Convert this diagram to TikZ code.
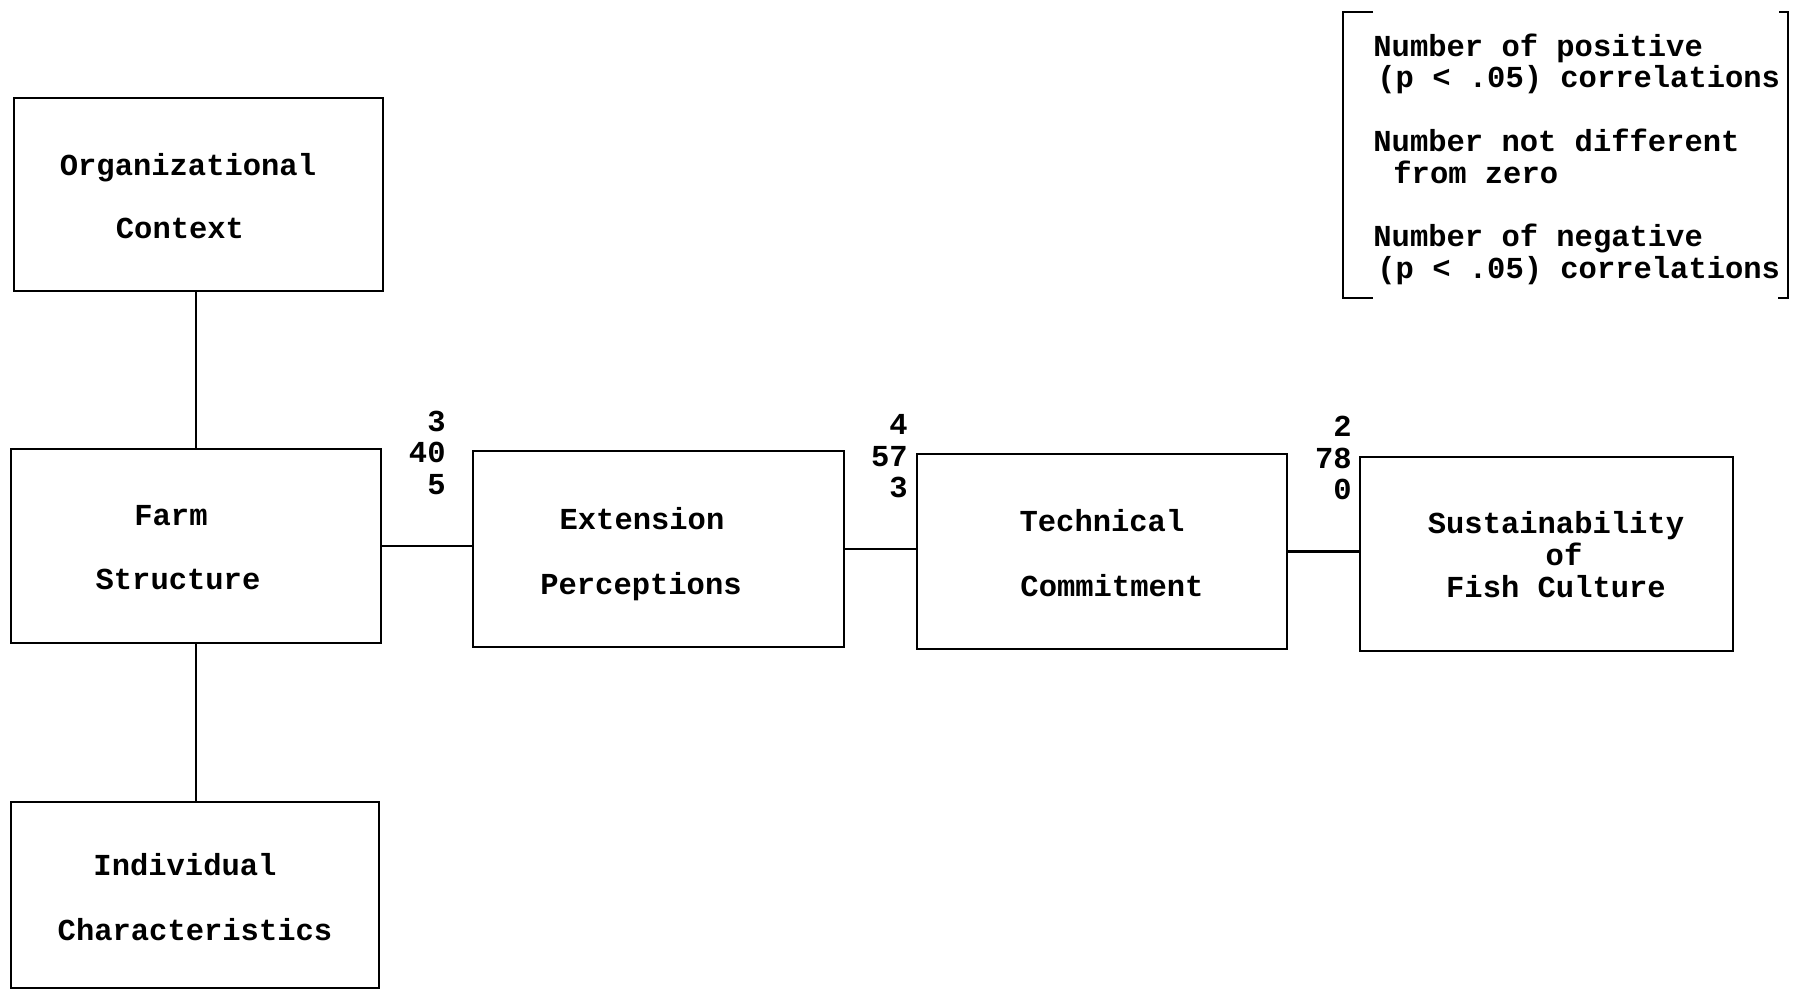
\documentclass[tikz,border=0pt]{standalone}
\usepackage{fontspec}
\setmonofont{Liberation Mono}
\begin{document}
\begin{tikzpicture}[x=0.5pt,y=-0.5pt,
  box/.style={draw, line width=1.35pt, inner sep=0pt, shape=rectangle},
  lbl/.style={font=\ttfamily\bfseries\fontsize{15.25}{16}\selectfont, inner sep=0pt, anchor=base},
  leg/.style={font=\ttfamily\bfseries\fontsize{15.25}{16}\selectfont, inner sep=0pt, anchor=base west},
  num/.style={font=\ttfamily\bfseries\fontsize{15.25}{15.75}\selectfont, align=right, inner sep=0pt, anchor=east},
  link/.style={line width=1.35pt},
  brk/.style={line width=1.35pt}]
\useasboundingbox (0,0) rectangle (1795,991);

% boxes
\node[box, minimum width=184.5pt, minimum height=96.5pt] (org) at (198.5,194.5) {};
\node[box, minimum width=185pt, minimum height=97pt] (farm) at (196,546) {};
\node[box, minimum width=184pt, minimum height=93pt] (indiv) at (195,895) {};
\node[box, minimum width=185.5pt, minimum height=98pt] (ext) at (658.5,549) {};
\node[box, minimum width=185pt, minimum height=97.5pt] (tech) at (1102,551.5) {};
\node[box, minimum width=186.5pt, minimum height=97pt] (sust) at (1546.5,554) {};

% box texts
\node[lbl] (orgA) at (188,175) {Organizational};
\node[lbl] (orgB) at (180,238) {Context};
\node[lbl] (farmA) at (171,525) {Farm};
\node[lbl] (farmB) at (178,589) {Structure};
\node[lbl] (indA) at (185,875) {Individual};
\node[lbl] (indB) at (195,940) {Characteristics};
\node[lbl] (extA) at (642,529) {Extension};
\node[lbl] (extB) at (641,594) {Perceptions};
\node[lbl] (techA) at (1102,531) {Technical};
\node[lbl] (techB) at (1112,596) {Commitment};
\node[lbl] (sustA) at (1556,533) {Sustainability};
\node[lbl] (sustB) at (1564,565) {of};
\node[lbl] (sustC) at (1556,597) {Fish Culture};

% numbers
\node[num] (n1) at (446,452.5) {3\\40\\5};
\node[num] (n2) at (908,456.5) {4\\57\\3};
\node[num] (n3) at (1352,458) {2\\78\\0};

% connectors
\draw[link] (farm.north) -- (farm.north |- org.south);
\draw[link] (farm.south) -- (farm.south |- indiv.north);
\draw[link] (farm.east) -- (farm.east -| ext.west);
\draw[link] (ext.east) -- (ext.east -| tech.west);
\draw[link] (tech.east) -- (tech.east -| sust.west);

% legend
\node[leg] (legA) at (1373,56) {Number of positive};
\node[leg] (legB) at (1377,87) {(p < .05) correlations};
\node[leg] (legC) at (1373,151) {Number not different};
\node[leg] (legD) at (1393,183) {from zero};
\node[leg] (legE) at (1373,246) {Number of negative};
\node[leg] (legF) at (1377,278) {(p < .05) correlations};
\draw[brk] (1373,12) -- (1343,12) -- (1343,298) -- (1373,298);
\draw[brk] (1779,12) -- (1788,12) -- (1788,298) -- (1778,298);
\end{tikzpicture}
\end{document}
